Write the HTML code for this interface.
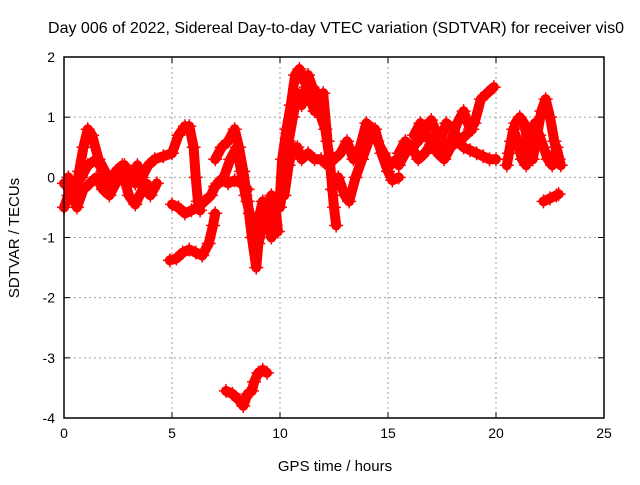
<!DOCTYPE html>
<html><head><meta charset="utf-8"><style>
body{margin:0;background:#fff}
svg{font-family:"Liberation Sans",Arial,sans-serif}
</style></head><body>
<svg id="chart" width="640" height="480">
<text x="336" y="33" font-size="16" text-anchor="middle">Day 006 of 2022, Sidereal Day-to-day VTEC variation (SDTVAR) for receiver vis0</text>
<text x="335" y="471" font-size="15" text-anchor="middle">GPS time / hours</text>
<text transform="translate(19,238) rotate(-90)" font-size="15" text-anchor="middle">SDTVAR / TECUs</text>
<g id="grid"></g><g id="ticks"></g><g id="marks"></g>
<rect x="64" y="57" width="540" height="361" fill="none" stroke="#000" stroke-width="1.5"/>
</svg>
<script>
const xTicks=[0,5,10,15,20,25];
const yTicks=[-4,-3,-2,-1,0,1,2];
const traces=[
[[0,-0.1],[0.3,-0.2],[0.5,-0.4],[0.7,0.1],[0.9,0.5],[1.1,0.8],[1.3,0.7],[1.6,0.3],[1.9,0.1],[2.2,-0.1],[2.5,0.0],[2.8,0.2],[3.1,0.0],[3.4,0.2],[3.7,-0.2],[4.0,-0.3],[4.3,-0.1]],
[[0,-0.5],[0.2,-0.3],[0.5,-0.1],[0.8,0.0],[1.1,0.2],[1.5,0.3],[1.8,0.1],[2.1,-0.1],[2.4,0.1],[2.7,0.2],[3.0,0.1],[3.3,-0.1],[3.6,0.0],[3.9,0.2],[4.2,0.3],[4.6,0.35],[5.0,0.4],[5.3,0.7],[5.6,0.85],[5.8,0.85],[6.0,0.5],[6.1,0.0],[6.2,-0.4],[6.3,-0.55]],
[[0.2,0.0],[0.4,-0.3],[0.6,-0.5],[0.9,-0.2],[1.2,-0.1],[1.5,0.0],[1.8,-0.2],[2.1,-0.3],[2.4,-0.1],[2.7,0.1],[3.0,-0.3],[3.3,-0.45],[3.5,-0.3],[3.8,-0.1],[4.1,-0.2]],
[[5.0,-0.45],[5.3,-0.5],[5.6,-0.6],[5.9,-0.55],[6.2,-0.5],[6.5,-0.4],[6.8,-0.3],[7.0,-0.15],[7.3,-0.05],[7.6,-0.1],[7.9,-0.05],[8.2,-0.1],[8.5,-0.2]],
[[4.9,-1.38],[5.2,-1.35],[5.5,-1.25],[5.8,-1.2],[6.1,-1.25],[6.4,-1.3],[6.7,-1.1],[6.9,-0.8],[7.0,-0.6]],
[[7.0,0.3],[7.3,0.5],[7.6,0.6],[7.9,0.8],[8.1,0.5],[8.3,0.1],[8.5,-0.4],[8.7,-1.0],[8.9,-1.5],[9.0,-1.1],[9.2,-0.8],[9.4,-0.5],[9.6,-0.3],[9.8,-0.5],[9.9,-0.9]],
[[7.1,-0.1],[7.4,0.0],[7.7,0.3],[8.0,0.5],[8.2,0.1],[8.4,-0.3],[8.6,-0.6],[8.8,-1.0],[9.0,-0.7],[9.2,-0.4],[9.4,-0.6],[9.6,-1.0],[9.8,-0.8]],
[[7.5,-3.55],[7.8,-3.6],[8.1,-3.7],[8.3,-3.8],[8.5,-3.6],[8.7,-3.55],[8.8,-3.4],[9.0,-3.25],[9.2,-3.2],[9.4,-3.25]],
[[10.0,-0.3],[10.1,0.3],[10.3,0.8],[10.5,1.2],[10.7,1.7],[10.9,1.8],[11.1,1.6],[11.3,1.7],[11.5,1.5],[11.7,1.4],[11.9,1.0],[12.1,0.8],[12.3,0.3],[12.5,-0.5],[12.6,-0.8]],
[[10.0,-0.5],[10.2,0.0],[10.4,0.6],[10.6,1.0],[10.8,1.4],[11.0,1.2],[11.2,1.5],[11.4,1.3],[11.6,1.1],[11.8,1.2],[12.0,1.4],[12.2,0.6]],
[[10.2,-0.3],[10.4,0.2],[10.6,0.5],[10.8,0.5],[11.0,0.3],[11.3,0.4],[11.6,0.3],[11.9,0.3],[12.2,0.2],[12.5,0.3],[12.8,0.4],[13.1,0.6],[13.4,0.3],[13.7,0.5],[14.0,0.9],[14.3,0.8],[14.5,0.6],[14.8,0.4],[15.1,0.2],[15.4,0.3]],
[[12.4,-0.2],[12.7,0.0],[13.0,-0.3],[13.2,-0.4],[13.5,0.0],[13.8,0.3],[14.1,0.6],[14.4,0.8],[14.7,0.4],[15.0,0.1],[15.2,-0.05],[15.5,0.0]],
[[15.5,0.4],[15.8,0.6],[16.1,0.5],[16.4,0.6],[16.7,0.8],[17.0,0.95],[17.3,0.7],[17.6,0.5],[17.9,0.6],[18.2,0.9],[18.5,1.1],[18.8,0.8],[19.0,0.9],[19.3,1.3],[19.6,1.4],[19.9,1.5]],
[[15.5,0.2],[15.8,0.4],[16.1,0.5],[16.4,0.3],[16.7,0.4],[17.0,0.55],[17.3,0.4],[17.6,0.3],[17.9,0.5],[18.2,0.6],[18.5,0.5],[18.8,0.45],[19.1,0.4],[19.4,0.35],[19.7,0.3],[20.0,0.3]],
[[16.2,0.7],[16.5,0.9],[16.8,0.7],[17.1,0.5],[17.4,0.6],[17.7,0.9],[18.0,0.8],[18.3,0.6],[18.6,0.7],[18.9,0.8]],
[[20.5,0.2],[20.7,0.6],[20.9,0.9],[21.1,1.0],[21.3,0.9],[21.5,0.5],[21.7,0.3],[21.9,0.7],[22.1,1.1],[22.3,1.3],[22.5,1.0],[22.7,0.6],[22.9,0.3]],
[[20.6,0.4],[20.8,0.8],[21.0,0.6],[21.2,0.3],[21.4,0.2],[21.6,0.6],[21.8,0.9],[22.0,0.7],[22.2,0.5],[22.4,0.3],[22.6,0.2],[22.8,0.5],[23.0,0.2]],
[[22.2,-0.4],[22.5,-0.35],[22.8,-0.3],[22.9,-0.28]]
];
const X0=64,X1=604,Y0=418,Y1=57;
function sx(v){return X0+(v-0)/(25-0)*(X1-X0);}
function sy(v){return Y0-(v+4)/(2+4)*(Y0-Y1);}
const NS="http://www.w3.org/2000/svg";
const grid=document.getElementById('grid'),ticks=document.getElementById('ticks'),marks=document.getElementById('marks');
function mk(tag,attrs,parent){const e=document.createElementNS(NS,tag);for(const k in attrs)e.setAttribute(k,attrs[k]);parent.appendChild(e);return e;}
xTicks.forEach(t=>{
  const x=sx(t);
  if(t>0&&t<25){const g=mk('line',{x1:x,x2:x,y1:Y1,y2:Y0,stroke:'#a0a0a0','stroke-dasharray':'2,3'},grid);
  
  }
  mk('line',{x1:x,x2:x,y1:Y0,y2:Y0-6,stroke:'#000'},ticks);
  mk('line',{x1:x,x2:x,y1:Y1,y2:Y1+6,stroke:'#000'},ticks);
  const l=mk('text',{x:x,y:Y0+20,'font-size':14,'text-anchor':'middle'},ticks);l.textContent=t;
  
  
});
yTicks.forEach(t=>{
  const y=sy(t);
  if(t>-4&&t<2){const g=mk('line',{x1:X0,x2:X1,y1:y,y2:y,stroke:'#a0a0a0','stroke-dasharray':'2,3'},grid);
  
  }
  mk('line',{x1:X0,x2:X0+6,y1:y,y2:y,stroke:'#000'},ticks);
  mk('line',{x1:X1,x2:X1-6,y1:y,y2:y,stroke:'#000'},ticks);
  const l=mk('text',{x:X0-9,y:y+5,'font-size':14,'text-anchor':'end'},ticks);l.textContent=t;
  
  
});
traces.forEach((tr,i)=>{
  const pts=tr.map(p=>sx(p[0])+','+sy(p[1])).join(' ');
  const pl=mk('polyline',{points:pts,fill:'none',stroke:'#ff0000','stroke-width':10,'stroke-linejoin':'round','stroke-linecap':'round'},marks);
  
  
  tr.forEach(p=>{
    const x=sx(p[0]),y=sy(p[1]);
    const m=mk('path',{d:`M${x-7},${y}H${x+7}M${x},${y-7}V${y+7}`,stroke:'#ff0000','stroke-width':1.5},marks);
    
    
  });
});
</script>
</body></html>
